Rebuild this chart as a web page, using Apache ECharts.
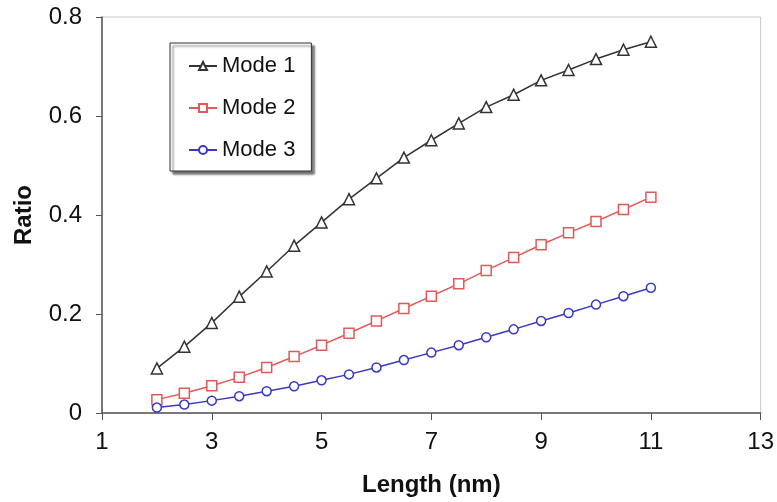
<!DOCTYPE html>
<html>
<head>
<meta charset="utf-8">
<script src="https://cdn.jsdelivr.net/npm/echarts@6/dist/echarts.min.js"></script>
<style>
  html, body { margin: 0; padding: 0; background: #fff; }
  #chart { width: 777px; height: 502px; }
</style>
</head>
<body>
<div id="chart"></div>
<script>
// 数据
var lengths = [2, 2.5, 3, 3.5, 4, 4.5, 5, 5.5, 6, 6.5, 7, 7.5, 8, 8.5, 9, 9.5, 10, 10.5, 11];
var mode1 = [0.090, 0.134, 0.182, 0.235, 0.286, 0.338, 0.385, 0.432, 0.474, 0.516,
             0.551, 0.585, 0.618, 0.643, 0.672, 0.693, 0.715, 0.734, 0.750];
var mode2 = [0.027, 0.040, 0.055, 0.072, 0.092, 0.114, 0.137, 0.161, 0.186, 0.211,
             0.236, 0.261, 0.288, 0.314, 0.340, 0.364, 0.387, 0.411, 0.436];
var mode3 = [0.011, 0.017, 0.025, 0.034, 0.044, 0.054, 0.066, 0.078, 0.092, 0.107,
             0.122, 0.137, 0.153, 0.169, 0.186, 0.202, 0.219, 0.236, 0.253];
var names = ['Mode 1', 'Mode 2', 'Mode 3'];

function pairs(ys) {
    return lengths.map(function (x, i) { return [x, ys[i]]; });
}

function mkSeries(name, ys, color, symbol, size) {
    return {
        name: name,
        type: 'line',
        data: pairs(ys),
        symbol: symbol,
        symbolSize: size,
        showAllSymbol: true,
        lineStyle: { color: color, width: 1.5 },
        itemStyle: { color: '#fff', borderColor: color, borderWidth: 1.5 },
        emphasis: { disabled: true },
        animation: false
    };
}

var font = 'Liberation Sans, Arial, sans-serif';
var chart = echarts.init(document.getElementById('chart'));

chart.setOption({
    backgroundColor: '#fff',
    animation: false,
    grid: {
        left: 102, right: 16, top: 17, bottom: 87,
        show: true, borderColor: '#c8c8c8', borderWidth: 1
    },
    legend: {
        data: names,
        orient: 'vertical',
        left: 170, top: 43,
        padding: [11, 16, 9, 18],
        itemGap: 18,
        itemWidth: 28,
        itemHeight: 10,
        backgroundColor: '#fff',
        borderColor: '#333',
        borderWidth: 1,
        shadowColor: 'rgba(0,0,0,0.55)',
        shadowBlur: 2,
        shadowOffsetX: 3,
        shadowOffsetY: 3,
        textStyle: { fontFamily: font, fontSize: 22, color: '#111', lineHeight: 24, padding: [0, 0, 0, 0] }
    },
    xAxis: {
        type: 'value',
        min: 1, max: 13, interval: 2,
        name: 'Length (nm)',
        nameLocation: 'middle',
        nameGap: 60,
        nameTextStyle: { fontFamily: font, fontSize: 24, fontWeight: 'bold', color: '#111' },
        axisLine: { lineStyle: { color: '#555', width: 1.5 } },
        axisTick: { show: true, length: 7, lineStyle: { color: '#555' } },
        axisLabel: { fontFamily: font, fontSize: 24, color: '#111', margin: 17 },
        splitLine: { show: false }
    },
    yAxis: {
        type: 'value',
        min: 0, max: 0.8, interval: 0.2,
        name: 'Ratio',
        nameLocation: 'middle',
        nameGap: 66,
        nameRotate: 90,
        nameTextStyle: { fontFamily: font, fontSize: 24, fontWeight: 'bold', color: '#111' },
        axisLine: { show: true, lineStyle: { color: '#555', width: 1.5 } },
        axisTick: { show: true, length: 6, lineStyle: { color: '#555' } },
        axisLabel: { fontFamily: font, fontSize: 24, color: '#111', margin: 20 },
        splitLine: { show: false }
    },
    series: [
        mkSeries(names[0], mode1, '#333333', 'triangle', 11),
        mkSeries(names[1], mode2, '#e05a5a', 'rect', 10),
        mkSeries(names[2], mode3, '#3a3ac0', 'circle', 9)
    ]
});
</script>
</body>
</html>
